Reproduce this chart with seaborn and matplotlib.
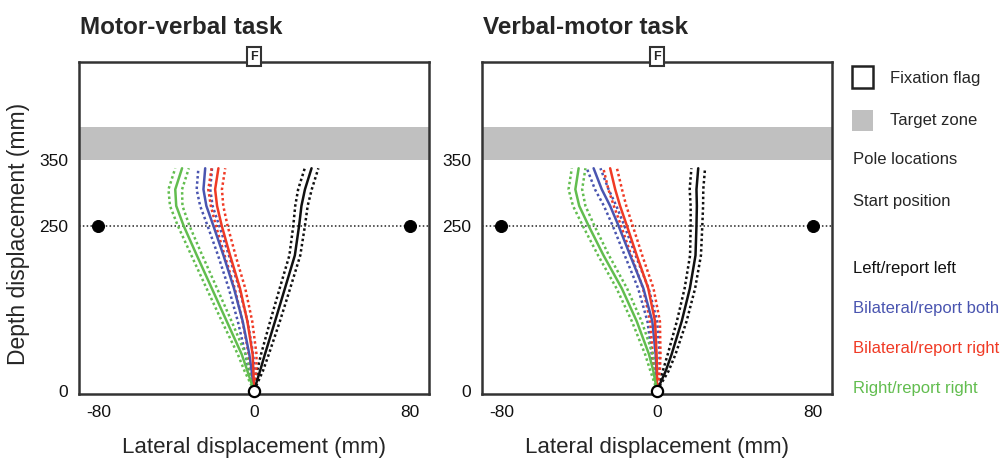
import numpy as np
import pandas as pd
import matplotlib
matplotlib.use("Agg")
import matplotlib.pyplot as plt
from matplotlib.patches import Rectangle
import seaborn as sns

# ---- data ----
depth = [0, 30, 55, 105, 155, 205, 250, 280, 305, 337]
ci_half = [0, 1.5, 2.0, 2.5, 2.7, 2.8, 3.0, 3.2, 3.5, 3.5]

conditions = ["Left/report left", "Bilateral/report both",
              "Bilateral/report right", "Right/report right"]
colors = ["#111111", "#4a55b0", "#f03a25", "#62bd4f"]

# Motor-verbal task: lateral position (mm) at each depth
mv_left = [0, 3.1, 5.6, 10.8, 15.9, 21.0, 23.2, 24.4, 26.2, 29.6]
mv_both = [0, -1.2, -2.4, -5.8, -10.3, -15.7, -20.9, -24.5, -26.0, -25.1]
mv_right_bi = [0, -0.3, -0.7, -3.4, -7.2, -12.3, -16.6, -19.0, -20.0, -18.3]
mv_right = [0, -3.4, -6.3, -14.0, -21.7, -29.4, -36.2, -40.0, -40.5, -37.0]

# Verbal-motor task
vm_left = [0, 4.5, 7.5, 12.7, 16.9, 19.8, 20.3, 20.5, 20.3, 21.2]
vm_both = [0, -0.3, -0.7, -2.4, -7.0, -13.8, -19.8, -24.1, -28.4, -32.6]
vm_right_bi = [0, 0, -0.2, -1.0, -4.5, -10.4, -15.5, -19.0, -21.5, -24.1]
vm_right = [0, -1.9, -4.1, -10.4, -18.1, -27.5, -35.2, -40.0, -42.0, -40.3]

tasks = ["Motor-verbal task", "Verbal-motor task"]
task_series = [[mv_left, mv_both, mv_right_bi, mv_right],
               [vm_left, vm_both, vm_right_bi, vm_right]]

pole_x = [-80, 80]
pole_y = [250, 250]
start_x = [0]
start_y = [0]
target_zone = (350, 400)
flag_pos = (0, 506)
xticks = [-80, 0, 80]
yticks = [0, 250, 350]

legend_items = ["Fixation flag", "Target zone", "Pole locations", "Start position"]

# ---- style ----
sns.set_style("white")
plt.rcParams["font.family"] = ["Liberation Sans", "DejaVu Sans"]

W, H = 1006, 458
fig = plt.figure(figsize=(W / 100, H / 100), dpi=100)

def fx(px):
    return px / W

def fy(py):
    return 1 - py / H

axes_px = [(79, 62, 429, 394), (482, 62, 832, 394)]
frame_col = "#333333"
dot_ls = (0, (1, 1.1))

for ai, (task, series) in enumerate(zip(tasks, task_series)):
    x0, y0, x1, y1 = axes_px[ai]
    ax = fig.add_axes([fx(x0), fy(y1), fx(x1) - fx(x0), fy(y0) - fy(y1)])
    ax.set_xlim(-90, 90)
    ax.set_ylim(-5, 498)

    ax.axhspan(target_zone[0], target_zone[1], color="#c0c0c0", lw=0, zorder=0)
    ax.axhline(250, color="#222222", ls=(0, (1, 1.5)), lw=1.1, zorder=1)

    for lat, col in zip(series, colors):
        df = pd.DataFrame({"lat": lat, "depth": depth, "ci": ci_half})
        df["lo"] = df["lat"] - df["ci"]
        df["hi"] = df["lat"] + df["ci"]
        for xcol in ("lo", "hi"):
            sns.lineplot(data=df, x=xcol, y="depth", orient="y", estimator=None,
                         color=col, lw=1.8, ls=dot_ls, ax=ax, zorder=2)
        sns.lineplot(data=df, x="lat", y="depth", orient="y", estimator=None,
                     color=col, lw=1.8, ax=ax, zorder=3)

    sns.scatterplot(x=pole_x, y=pole_y, color="black", s=75, ax=ax,
                    zorder=4, edgecolor="black")
    ax.scatter(start_x, start_y, s=65, facecolor="white", edgecolor="black",
               linewidth=1.6, zorder=5, clip_on=False)

    ax.text(flag_pos[0], flag_pos[1], "F", ha="center", va="center",
            fontsize=9, fontweight="bold", zorder=6, clip_on=False,
            bbox=dict(boxstyle="square,pad=0.28", fc="white", ec=frame_col, lw=1.5))

    for sp in ax.spines.values():
        sp.set_visible(True)
        sp.set_color(frame_col)
        sp.set_linewidth(1.8)

    ax.set_xticks(xticks)
    ax.set_xticklabels([str(t) for t in xticks])
    ax.set_yticks(yticks)
    ax.set_yticklabels([str(t) for t in yticks])
    ax.tick_params(axis="both", length=0, labelsize=12.5, colors="#111111", pad=8)
    ax.set_xlabel("Lateral displacement (mm)", fontsize=16, labelpad=12)
    if ai == 0:
        ax.set_ylabel("Depth displacement (mm)", fontsize=16.5)
        ax.yaxis.set_label_coords((30 - x0) / (x1 - x0), (y1 - 234) / (y1 - y0))
    else:
        ax.set_ylabel("")
    fig.text(fx(x0 + 1), fy(27), task, fontsize=17.5, fontweight="bold",
             ha="left", va="center")

# ---- legend (right side) ----
sq = 21
fig.add_artist(Rectangle((fx(852), fy(77 + sq / 2)), sq / W, sq / H,
                         transform=fig.transFigure, fc="white", ec="#222222", lw=1.8))
fig.add_artist(Rectangle((fx(852), fy(120 + sq / 2)), sq / W, sq / H,
                         transform=fig.transFigure, fc="#c0c0c0", ec="none"))
fig.text(fx(890), fy(78), legend_items[0], fontsize=12, va="center")
fig.text(fx(890), fy(121), legend_items[1], fontsize=12, va="center")
fig.text(fx(853), fy(160), legend_items[2], fontsize=12, va="center")
fig.text(fx(853), fy(201), legend_items[3], fontsize=12, va="center")

leg_y = [269, 309, 349, 388]
for name, col, y in zip(conditions, colors, leg_y):
    fig.text(fx(853), fy(y), name, fontsize=12, va="center", color=col)

fig.savefig("out.png", dpi=100)
